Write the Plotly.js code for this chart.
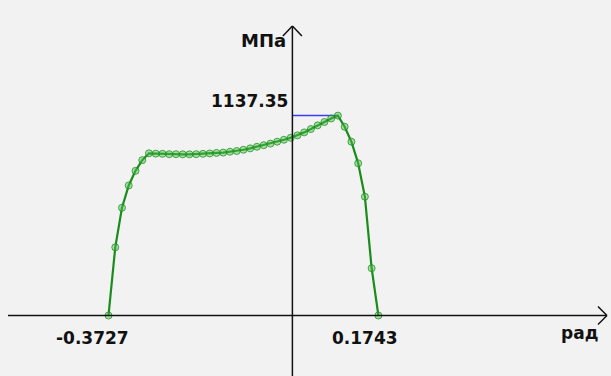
<!DOCTYPE html>
<html>
<head>
<meta charset="utf-8">
<script src="https://cdn.plot.ly/plotly-3.0.1.min.js"></script>
<style>
html,body{margin:0;padding:0;background:#f2f2f2;}
#chart{width:611px;height:376px;}
</style>
</head>
<body>
<div id="chart"></div>
<script>
// curvature, rad
const curvature = [
  -0.3727, -0.3590, -0.3454, -0.3317, -0.3180, -0.3043, -0.2907, -0.2770, -0.2633, -0.2496,
  -0.2360, -0.2223, -0.2086, -0.1949, -0.1813, -0.1676, -0.1539, -0.1402, -0.1266, -0.1129,
  -0.0992, -0.0855, -0.0719, -0.0582, -0.0445, -0.0308, -0.0172, -0.0035, 0.0102, 0.0239,
  0.0375, 0.0512, 0.0649, 0.0786, 0.0922, 0.1059, 0.1196, 0.1333, 0.1469, 0.1606, 0.1743
];
// stress, MPa
const stress = [
  0, 388, 613, 740, 823, 884, 923, 921, 920, 918,
  918, 917, 917, 918, 920, 922, 925, 927, 932, 936,
  943, 951, 960, 969, 978, 989, 1000, 1011, 1025, 1042,
  1061, 1082, 1101, 1121, 1137.35, 1074, 989, 866, 676, 269, 0
];
const yUnit = "МПа";
const xUnit = "рад";
const peakLabel = "1137.35";
const xMinLabel = "-0.3727";
const xMaxLabel = "0.1743";

const peakIdx = stress.indexOf(Math.max(...stress));
const peakX = curvature[peakIdx];
const peakY = stress[peakIdx];
const xMin = curvature[0];
const xMax = curvature[curvature.length - 1];

const W = 611, H = 376;
const fontBold = {family: "DejaVu Sans", size: 17, color: "#111"};

const traces = [
  {
    x: [0, peakX], y: [peakY, peakY],
    mode: "lines", line: {color: "rgb(60,60,255)", width: 1.5},
    hoverinfo: "skip", showlegend: false
  },
  {
    x: curvature, y: stress,
    mode: "lines+markers",
    line: {color: "rgb(25,140,25)", width: 2.2},
    marker: {size: 7, color: "rgba(80,190,80,0.45)", line: {color: "rgba(25,140,25,0.75)", width: 1}},
    showlegend: false
  }
];

const axisCol = "#111";
const layout = {
  width: W, height: H,
  margin: {l: 0, r: 0, t: 0, b: 0},
  paper_bgcolor: "#f2f2f2",
  plot_bgcolor: "#f2f2f2",
  showlegend: false,
  xaxis: {range: [-0.5926, 0.6457], visible: false, fixedrange: true},
  yaxis: {range: [-344.2, 1795.2], visible: false, fixedrange: true},
  shapes: [
    {type: "line", xref: "paper", yref: "y", x0: 8 / W, x1: 607 / W, y0: 0, y1: 0, line: {color: axisCol, width: 1.5}},
    {type: "line", xref: "paper", yref: "y", ysizemode: "pixel", yanchor: 0, x0: 598 / W, x1: 607 / W, y0: 9, y1: 0, line: {color: axisCol, width: 1.5}},
    {type: "line", xref: "paper", yref: "y", ysizemode: "pixel", yanchor: 0, x0: 598 / W, x1: 607 / W, y0: -9, y1: 0, line: {color: axisCol, width: 1.5}},
    {type: "line", xref: "x", yref: "paper", x0: 0, x1: 0, y0: 0, y1: 1 - 26 / H, line: {color: axisCol, width: 1.5}},
    {type: "line", xref: "x", yref: "paper", xsizemode: "pixel", xanchor: 0, x0: -9.5, x1: 0, y0: 1 - 36 / H, y1: 1 - 26 / H, line: {color: axisCol, width: 1.5}},
    {type: "line", xref: "x", yref: "paper", xsizemode: "pixel", xanchor: 0, x0: 9.5, x1: 0, y0: 1 - 36 / H, y1: 1 - 26 / H, line: {color: axisCol, width: 1.5}}
  ],
  annotations: [
    {text: "<b>" + yUnit + "</b>", xref: "x", yref: "paper", x: 0, y: 1 - 40 / H, xanchor: "right", yanchor: "middle", xshift: -4, showarrow: false, font: {family: "DejaVu Sans", size: 18, color: "#111"}},
    {text: "<b>" + peakLabel + "</b>", xref: "x", yref: "y", x: 0, y: peakY, xanchor: "right", yanchor: "middle", xshift: -2, yshift: 15, showarrow: false, font: fontBold},
    {text: "<b>" + xMinLabel + "</b>", xref: "x", yref: "y", x: xMin, y: 0, xanchor: "right", yanchor: "middle", xshift: 22, yshift: -22.5, showarrow: false, font: fontBold},
    {text: "<b>" + xMaxLabel + "</b>", xref: "x", yref: "y", x: xMax, y: 0, xanchor: "right", yanchor: "middle", xshift: 22, yshift: -22.5, showarrow: false, font: fontBold},
    {text: "<b>" + xUnit + "</b>", xref: "paper", yref: "y", x: 600 / W, y: 0, xanchor: "right", yanchor: "middle", yshift: -17, showarrow: false, font: fontBold}
  ]
};

Plotly.newPlot("chart", traces, layout, {staticPlot: true, displayModeBar: false});
</script>
</body>
</html>
